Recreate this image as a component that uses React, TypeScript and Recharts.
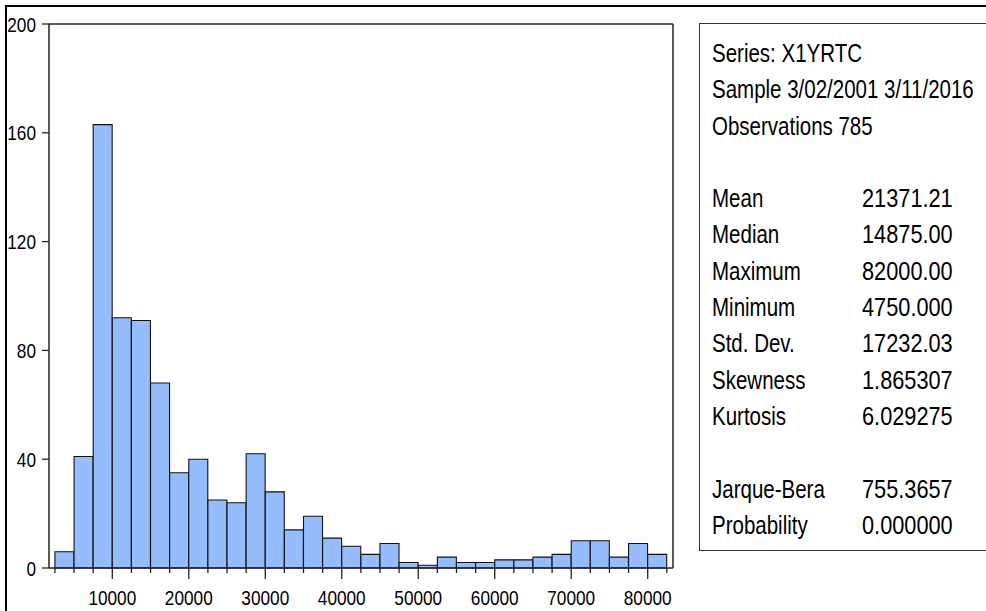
import { BarChart, Bar, XAxis, YAxis, ReferenceLine } from 'recharts'

// histogram bins (lower edge, width 2500) and counts
const binLow = [
  2500, 5000, 7500, 10000, 12500, 15000, 17500, 20000, 22500, 25000, 27500,
  30000, 32500, 35000, 37500, 40000, 42500, 45000, 47500, 50000, 52500, 55000,
  57500, 60000, 62500, 65000, 67500, 70000, 72500, 75000, 77500, 80000,
]
const counts = [
  6, 41, 163, 92, 91, 68, 35, 40, 25, 24, 42, 28, 14, 19, 11, 8, 5, 9, 2, 1, 4,
  2, 2, 3, 3, 4, 5, 10, 10, 4, 9, 5,
]
const BIN = 2500

const xTicks = [
  2500, 5000, 7500, 10000, 12500, 15000, 17500, 20000, 22500, 25000, 27500,
  30000, 32500, 35000, 37500, 40000, 42500, 45000, 47500, 50000, 52500, 55000,
  57500, 60000, 62500, 65000, 67500, 70000, 72500, 75000, 77500, 80000, 82500,
]
const xLabels = [10000, 20000, 30000, 40000, 50000, 60000, 70000, 80000]
const yTicks = [0, 40, 80, 120, 160, 200]
const xDomain = [1724, 83308]
const yDomain = [0, 200]

const headerLines = ['Series: X1YRTC', 'Sample 3/02/2001 3/11/2016', 'Observations 785']
const statNames = ['Mean', 'Median', 'Maximum', 'Minimum', 'Std. Dev.', 'Skewness', 'Kurtosis']
const statValues = ['21371.21', '14875.00', '82000.00', '4750.000', '17232.03', '1.865307', '6.029275']
const testNames = ['Jarque-Bera', 'Probability']
const testValues = ['755.3657', '0.000000']

// no Arial Narrow here, so squeeze Liberation Sans instead
const FONT = '"Liberation Sans", Arial, sans-serif'
const SQUEEZE = 0.82
const NUM_SQUEEZE = 0.87
const LINE = '#222'

const data = binLow.map((lo, i) => ({ mid: lo + BIN / 2, count: counts[i] }))

function XTick(props: any) {
  const { x, y, payload } = props
  const major = xLabels.includes(payload.value)
  return (
    <g>
      <line x1={x} x2={x} y1={y} y2={y + (major ? 11 : 5)} stroke={LINE} strokeWidth={1.3} />
      {major && (
        <text
          transform={`translate(${x},${y + 37}) scale(${SQUEEZE},1)`}
          textAnchor="middle"
          fontSize={21}
          fontFamily={FONT}
          fill="#000"
        >
          {payload.value}
        </text>
      )}
    </g>
  )
}

function YTick(props: any) {
  const { x, y, payload } = props
  return (
    <text
      transform={`translate(${x},${y}) scale(${SQUEEZE},1)`}
      textAnchor="end"
      dy="0.36em"
      fontSize={21}
      fontFamily={FONT}
      fill="#000"
    >
      {payload.value}
    </text>
  )
}

const rowH = 36.3

function Squeezed({ children, k }: { children: string; k: number }) {
  return (
    <span
      style={{
        display: 'inline-block',
        transform: `scaleX(${k})`,
        transformOrigin: 'left center',
      }}
    >
      {children}
    </span>
  )
}

function StatRow({ name, value }: { name: string; value?: string }) {
  return (
    <div style={{ height: rowH, lineHeight: `${rowH}px`, position: 'relative', whiteSpace: 'nowrap' }}>
      <span style={{ position: 'absolute', left: 0 }}>
        <Squeezed k={SQUEEZE}>{name}</Squeezed>
      </span>
      {value && (
        <span style={{ position: 'absolute', left: 150 }}>
          <Squeezed k={NUM_SQUEEZE}>{value}</Squeezed>
        </span>
      )}
    </div>
  )
}

export default function App() {
  return (
    <div
      style={{
        position: 'absolute',
        left: 0,
        top: 0,
        width: 986,
        height: 611,
        overflow: 'hidden',
        background: '#fff',
      }}
    >
      <div
        style={{
          position: 'absolute',
          left: 5,
          top: 5,
          width: 1200,
          height: 1200,
          borderTop: '2.5px solid #000',
          borderLeft: '2.5px solid #000',
        }}
      />
      <div style={{ position: 'absolute', left: 0, top: 0 }}>
        <BarChart
          width={986}
          height={611}
          data={data}
          margin={{ top: 24, right: 313, bottom: 0, left: 0 }}
          barCategoryGap={0}
          barGap={0}
        >
          <XAxis
            dataKey="mid"
            type="number"
            domain={xDomain}
            allowDataOverflow
            ticks={xTicks}
            interval={0}
            height={43}
            tickSize={0}
            tickMargin={0}
            tickLine={false}
            tick={<XTick />}
            axisLine={{ stroke: LINE, strokeWidth: 1.5 }}
          />
          <YAxis
            type="number"
            domain={yDomain}
            ticks={yTicks}
            interval={0}
            width={49}
            tickSize={7}
            tickMargin={6}
            tick={<YTick />}
            tickLine={{ stroke: LINE, strokeWidth: 1.3 }}
            axisLine={{ stroke: LINE, strokeWidth: 1.5 }}
          />
          <Bar
            dataKey="count"
            fill="#95BDFE"
            stroke="#111"
            strokeWidth={1.1}
            isAnimationActive={false}
          />
          {/* top and right edges of the plot frame */}
          <ReferenceLine y={yDomain[1]} stroke={LINE} strokeWidth={1.5} />
          <ReferenceLine x={xDomain[1]} stroke={LINE} strokeWidth={1.5} />
        </BarChart>
      </div>
      <div
        style={{
          position: 'absolute',
          left: 699,
          top: 23,
          width: 400,
          height: 528,
          border: '1.3px solid #333',
          boxSizing: 'border-box',
          paddingTop: 11,
          paddingLeft: 12,
          fontFamily: FONT,
          fontSize: 25,
          color: '#000',
        }}
      >
        {headerLines.map((t) => (
          <StatRow key={t} name={t} />
        ))}
        <StatRow name="" />
        {statNames.map((n, i) => (
          <StatRow key={n} name={n} value={statValues[i]} />
        ))}
        <StatRow name="" />
        {testNames.map((n, i) => (
          <StatRow key={n} name={n} value={testValues[i]} />
        ))}
      </div>
    </div>
  )
}
